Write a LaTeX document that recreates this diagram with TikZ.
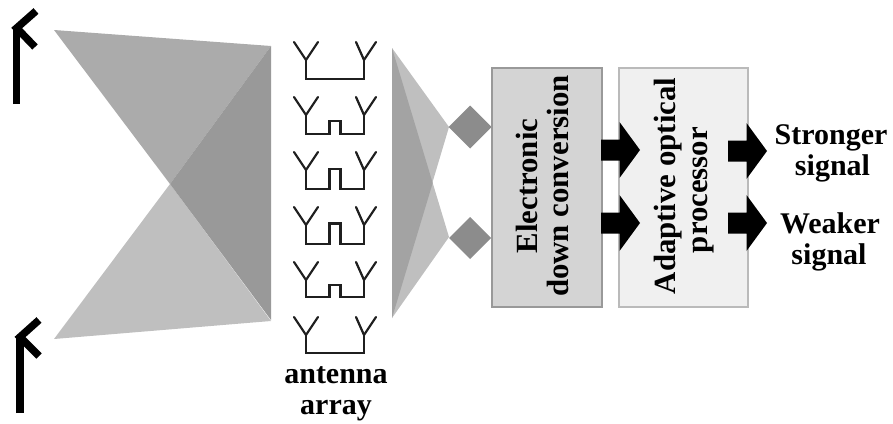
\documentclass[tikz,border=0pt]{standalone}
\usepackage{fontspec}
\setmainfont{Liberation Serif}
\tikzset{
  lbl/.style={inner sep=0pt,anchor=base,font=\fontsize{30}{31}\selectfont\bfseries,text=black},
  rlbl/.style={lbl,font=\fontsize{30.8}{31}\selectfont\bfseries,rotate=90},
  wire/.style={draw=black!88,line width=2.2pt,line join=miter,line cap=round},
  mast/.style={draw=black,line width=7.5pt,line cap=butt,line join=miter},
  blockarrow/.style={fill=black},
  blockA/.style={draw=black!40,fill=black!17,line width=2pt},
  blockB/.style={draw=black!27,fill=black!6,line width=2pt},
  farTop/.style={fill=black!33},
  farBot/.style={fill=black!25},
  farMid/.style={fill=black!40},
  nearLight/.style={fill=black!25},
  nearDark/.style={fill=black!36},
  diam/.style={fill=black!45}
}
\begin{document}
\begin{tikzpicture}[x=1pt,y=-1pt]
\useasboundingbox (0,0) rectangle (893,423);
% left beams
\fill[farTop] (54,30) -- (271,46) -- (170,184) -- cycle;
\fill[farBot] (54,339) -- (271,321) -- (170,184) -- cycle;
\fill[farMid] (271,46) -- (271,320) -- (170,184) -- cycle;
% far-field antennas
\draw[mast] (16.7,104) -- (16.7,28);
\draw[mast] (36,11) -- (16.7,28) -- (35,47);
\draw[mast] (20,413) -- (20,337);
\draw[mast] (39,320) -- (20,337) -- (39,356);
% antenna array
\foreach \t in {42,97,152,207,262,317}{
  \begin{scope}[yshift=-\t pt]
    \draw[wire] (294,0) -- (306,18) -- (318,0);
    \draw[wire] (356,0) -- (364,18) -- (376,0);
  \end{scope}
}
\draw[wire] (306,60) -- (306,79) -- (364,79) -- (364,60);
\draw[wire] (306,115) -- (306,134) -- (329.5,134) -- (329.5,121) -- (340.5,121) -- (340.5,134) -- (364,134) -- (364,115);
\draw[wire] (306,170) -- (306,189) -- (329.5,189) -- (329.5,169) -- (340.5,169) -- (340.5,189) -- (364,189) -- (364,170);
\draw[wire] (306,225) -- (306,244) -- (329.5,244) -- (329.5,223.5) -- (340.5,223.5) -- (340.5,244) -- (364,244) -- (364,225);
\draw[wire] (306,280) -- (306,297) -- (329.5,297) -- (329.5,285) -- (340.5,285) -- (340.5,297) -- (364,297) -- (364,280);
\draw[wire] (306,335) -- (306,353) -- (364,353) -- (364,335);
\node[lbl] (ant) at (336,383) {antenna};
\node[lbl] (arr) at (336,414) {array};
% right beams
\fill[nearLight] (392,48) -- (449,127) -- (392,318) -- cycle;
\fill[nearLight] (392,318) -- (449,237) -- (392,48) -- cycle;
\fill[nearDark] (392,48) -- (432.7,183) -- (392,318) -- cycle;
% diamonds
\fill[diam] (470,105.5) -- (491.5,127) -- (470,148.5) -- (448.5,127) -- cycle;
\fill[diam] (470,217) -- (491,238) -- (470,259) -- (449,238) -- cycle;
% blocks
\path[blockA] (492,68) rectangle (602,307);
\path[blockB] (619,68) rectangle (748,307);
\node[rlbl] (e1) at (537,186) {Electronic};
\node[rlbl] (e2) at (568,186) {down conversion};
\node[rlbl] (a1) at (675,186) {Adaptive optical};
\node[rlbl] (a2) at (707,190) {processor};
% block arrows
\foreach \x/\yy in {601/150,601/223,728/151,728/223}{
  \fill[blockarrow] (\x,\yy-10.5) -- (\x+18.5,\yy-10.5) -- (\x+18.5,\yy-28) -- (\x+39,\yy) -- (\x+18.5,\yy+28) -- (\x+18.5,\yy+10.5) -- (\x,\yy+10.5) -- cycle;
}
% output labels
\node[lbl] (s1) at (831,144) {Stronger};
\node[lbl] (s2) at (832.5,175) {signal};
\node[lbl] (w1) at (830,233) {Weaker};
\node[lbl] (w2) at (829,264) {signal};
\end{tikzpicture}
\end{document}
